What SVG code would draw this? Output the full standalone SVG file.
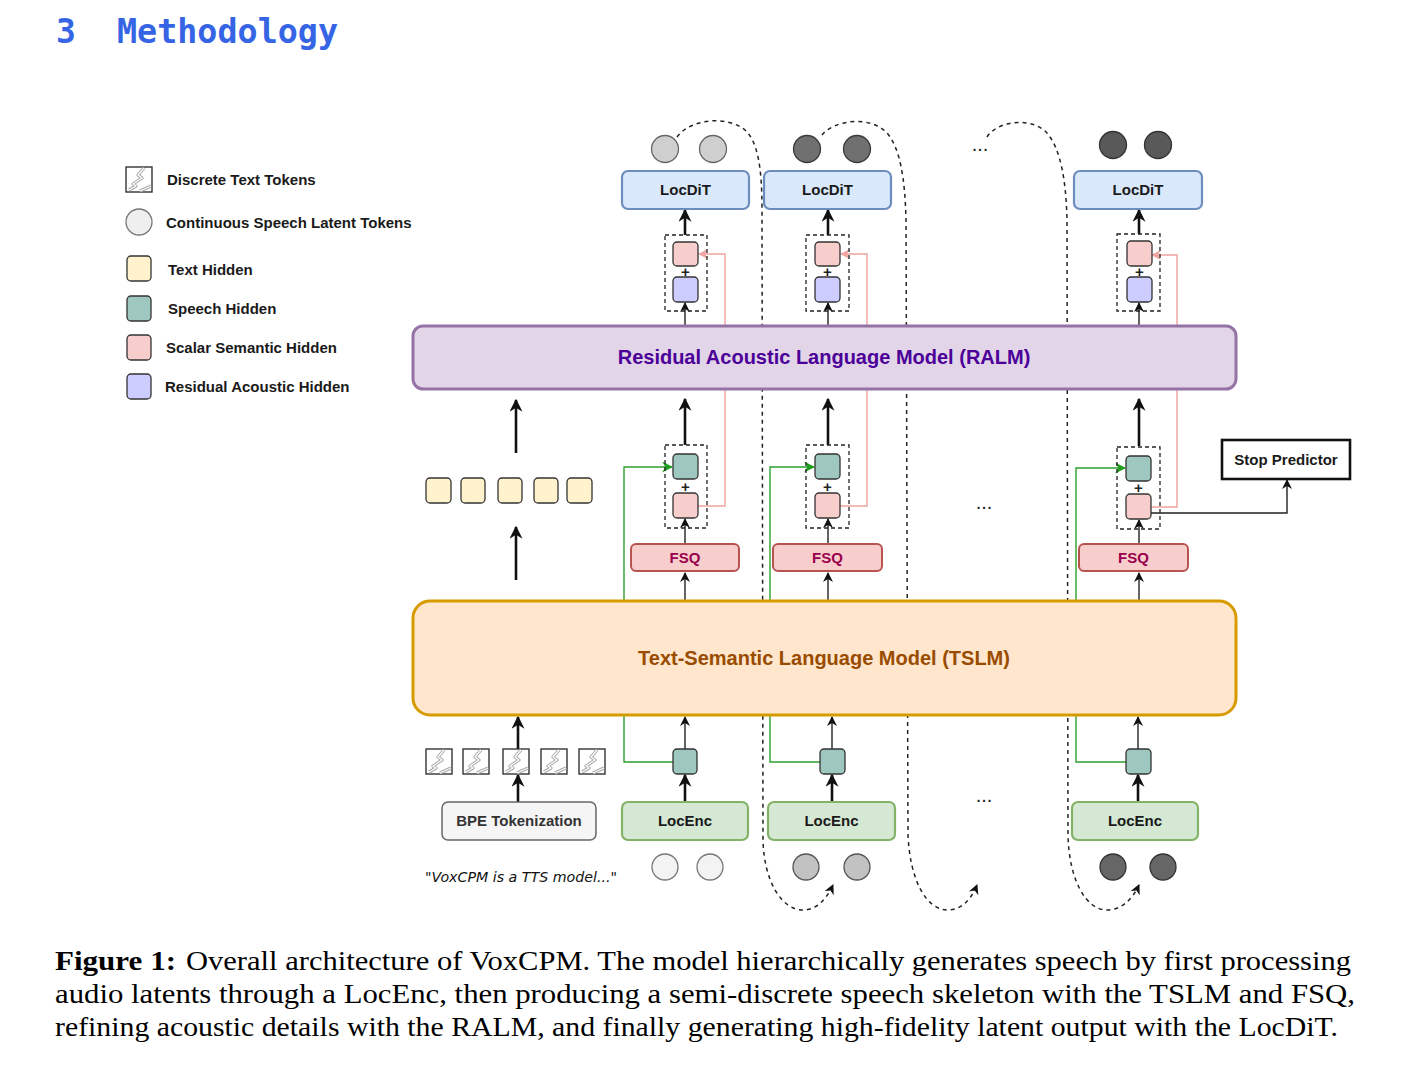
<svg xmlns="http://www.w3.org/2000/svg" xmlns:xlink="http://www.w3.org/1999/xlink" width="1409" height="1074" viewBox="0 0 1409 1074">
<style>
.t{font-family:"Liberation Sans",Arial,Helvetica,sans-serif;font-weight:bold;font-size:15px;fill:#1a1a1a}
.c{text-anchor:middle}
.sq{stroke:#333;stroke-width:1.3}
.th{fill:#fff2cc}
.sh{fill:#9ec7bf}
.ss{fill:#f8cecc}
.ra{fill:#ccccff}
.dbox{fill:none;stroke:#222;stroke-width:1.3;stroke-dasharray:4 3}
.thick{stroke:#111;stroke-width:2.6;fill:none}
.thin{stroke:#222;stroke-width:1.4;fill:none}
.green{stroke:#2ea02e;stroke-width:1.4;fill:none}
.pink{stroke:#f0a3a0;stroke-width:1.4;fill:none}
.curve{stroke:#222;stroke-width:1.5;fill:none;stroke-dasharray:4 4}
.locdit{fill:#dae8fc;stroke:#6c8ebf;stroke-width:2.2}
.locenc{fill:#d5e8d4;stroke:#82b366;stroke-width:2.2}
.fsq{fill:#f8cecc;stroke:#b85450;stroke-width:2}
.plus{font-family:"Liberation Sans",Arial,sans-serif;font-weight:bold;font-size:15px;fill:#222;text-anchor:middle}
.dots{font-family:"Liberation Sans",Arial,sans-serif;font-size:20px;fill:#222;text-anchor:middle}
.cap{font-family:"Liberation Serif","Times New Roman",serif;font-size:28px;fill:#000}
</style>
<defs>
<marker id="aK" markerUnits="userSpaceOnUse" markerWidth="13" markerHeight="13" viewBox="0 0 10 10" refX="9" refY="5" orient="auto"><path d="M0,0 L10,5 L0,10 L3,5 z" fill="#111"/></marker>
<marker id="aKs" markerUnits="userSpaceOnUse" markerWidth="10" markerHeight="10" viewBox="0 0 10 10" refX="9" refY="5" orient="auto"><path d="M0,0 L10,5 L0,10 L3,5 z" fill="#111"/></marker>
<marker id="aG" markerUnits="userSpaceOnUse" markerWidth="11" markerHeight="11" viewBox="0 0 10 10" refX="9" refY="5" orient="auto"><path d="M0,0 L10,5 L0,10 L3,5 z" fill="#1ea01e"/></marker>
<marker id="aP" markerUnits="userSpaceOnUse" markerWidth="10" markerHeight="10" viewBox="0 0 10 10" refX="9" refY="5" orient="auto"><path d="M0,0 L10,5 L0,10 L3,5 z" fill="#f0a3a0"/></marker>
<g id="tok">
<rect x="0" y="0" width="26" height="25" fill="#fff" stroke="#333" stroke-width="1.4"/>
<path d="M18,1 L12,8 L16,11 L7,17 L10,19 L3,23 M14,24 L25,19" fill="none" stroke="#a8a8a8" stroke-width="3.2" stroke-linejoin="round"/>
<path d="M18,1 L12,8 L16,11 L7,17 L10,19 L3,23 M14,24 L25,19" fill="none" stroke="#fff" stroke-width="1.2" stroke-linejoin="round"/>
</g>
</defs>
<rect width="1409" height="1074" fill="#fff"/>

<!-- Title -->
<text x="56" y="43" font-family="'DejaVu Sans Mono','Liberation Mono',monospace" font-weight="bold" font-size="33" fill="#3564e4">3</text>
<text x="117" y="43" font-family="'DejaVu Sans Mono','Liberation Mono',monospace" font-weight="bold" font-size="33" fill="#3564e4" textLength="221" lengthAdjust="spacingAndGlyphs">Methodology</text>

<!-- Legend -->
<g id="legend">
<use href="#tok" x="126" y="167"/>
<text class="t" x="167" y="185">Discrete Text Tokens</text>
<circle cx="139" cy="222" r="13" fill="#efefef" stroke="#777" stroke-width="1.3"/>
<text class="t" x="166" y="228">Continuous Speech Latent Tokens</text>
<rect class="sq th" x="127" y="256" width="24" height="25" rx="4"/>
<text class="t" x="168" y="275">Text Hidden</text>
<rect class="sq sh" x="127" y="296" width="24" height="25" rx="4"/>
<text class="t" x="168" y="314">Speech Hidden</text>
<rect class="sq ss" x="127" y="335" width="24" height="25" rx="4"/>
<text class="t" x="166" y="353">Scalar Semantic Hidden</text>
<rect class="sq ra" x="127" y="374" width="24" height="25" rx="4"/>
<text class="t" x="165" y="392">Residual Acoustic Hidden</text>
</g>

<!-- Connectors (under boxes) -->
<g id="connectors">
<path class="curve" d="M677,137 C690,119 727,115 745,130 C758,142 762,168 762,210 L763,840 C764,882 782,910 803,910 C816,910 826,900 833,885" marker-end="url(#aKs)"/>
<path class="curve" d="M822,135 C834,120 870,115 887,133 C900,148 905,178 906,220 L908,835 C910,880 926,910 948,910 C961,910 971,900 977,885" marker-end="url(#aKs)"/>
<path class="curve" d="M987,137 C997,121 1031,116 1047,133 C1060,148 1066,178 1067,220 L1068,835 C1069,880 1086,910 1107,910 C1121,910 1132,900 1139,885" marker-end="url(#aKs)"/>

<path class="green" d="M673,762 H624 V467 H672" marker-end="url(#aG)"/>
<path class="green" d="M820,762 H770 V467 H814" marker-end="url(#aG)"/>
<path class="green" d="M1126,762 H1076 V468 H1125" marker-end="url(#aG)"/>

<path class="pink" d="M698,506 H725 V254 H699" marker-end="url(#aP)"/>
<path class="pink" d="M840,506 H867 V254 H841" marker-end="url(#aP)"/>
<path class="pink" d="M1151,507 H1177 V255 H1152" marker-end="url(#aP)"/>

<path class="thin" d="M1151,513 H1287 V480" marker-end="url(#aKs)"/>

<path class="thick" d="M685,235 V210" marker-end="url(#aK)"/>
<path class="thin" d="M685,326 V303" marker-end="url(#aKs)"/>
<path class="thick" d="M685,445 V399" marker-end="url(#aK)"/>
<path class="thin" d="M685,544 V519" marker-end="url(#aKs)"/>
<path class="thin" d="M685,600 V573" marker-end="url(#aKs)"/>
<path class="thin" d="M685,749 V717" marker-end="url(#aKs)"/>
<path class="thick" d="M685,802 V775" marker-end="url(#aK)"/>

<path class="thick" d="M828,235 V210" marker-end="url(#aK)"/>
<path class="thin" d="M828,326 V303" marker-end="url(#aKs)"/>
<path class="thick" d="M828,445 V399" marker-end="url(#aK)"/>
<path class="thin" d="M828,544 V519" marker-end="url(#aKs)"/>
<path class="thin" d="M828,600 V573" marker-end="url(#aKs)"/>
<path class="thin" d="M832,749 V717" marker-end="url(#aKs)"/>
<path class="thick" d="M832,802 V775" marker-end="url(#aK)"/>

<path class="thick" d="M1139,234 V210" marker-end="url(#aK)"/>
<path class="thin" d="M1139,326 V303" marker-end="url(#aKs)"/>
<path class="thick" d="M1139,446 V399" marker-end="url(#aK)"/>
<path class="thin" d="M1139,544 V520" marker-end="url(#aKs)"/>
<path class="thin" d="M1139,600 V573" marker-end="url(#aKs)"/>
<path class="thin" d="M1138,749 V717" marker-end="url(#aKs)"/>
<path class="thick" d="M1138,802 V775" marker-end="url(#aK)"/>

<path class="thick" d="M516,453 V400" marker-end="url(#aK)"/>
<path class="thick" d="M516,580 V527" marker-end="url(#aK)"/>
<path class="thick" d="M518,749 V717" marker-end="url(#aK)"/>
<path class="thick" d="M518,802 V775" marker-end="url(#aK)"/>
</g>

<g id="ralm">
<rect x="413" y="326" width="823" height="63" rx="10" fill="#e1d5e7" stroke="#9673a6" stroke-width="3"/>
<text class="t c" x="824" y="364" style="font-size:20px;fill:#4c0099">Residual Acoustic Language Model (RALM)</text>
</g>
<g id="tslm">
<rect x="413" y="601" width="823" height="114" rx="17" fill="#ffe6cc" stroke="#d79b00" stroke-width="3"/>
<text class="t c" x="824" y="665" style="font-size:20px;fill:#994c00">Text-Semantic Language Model (TSLM)</text>
</g>

<g id="col1">
<circle cx="665" cy="149" r="13.5" fill="#cfcfcf" stroke="#666" stroke-width="1.3"/>
<circle cx="713" cy="149" r="13.5" fill="#cfcfcf" stroke="#666" stroke-width="1.3"/>
<rect class="locdit" x="622" y="171" width="127" height="38" rx="6"/>
<text class="t c" x="685.5" y="195">LocDiT</text>
<rect class="dbox" x="665" y="235" width="42" height="76"/>
<rect class="sq ss" x="673" y="242" width="25" height="24" rx="4"/>
<text class="plus" x="685.5" y="277">+</text>
<rect class="sq ra" x="673" y="277" width="25" height="25" rx="4"/>
<rect class="dbox" x="665" y="445" width="42" height="83"/>
<rect class="sq sh" x="673" y="454" width="25" height="25" rx="4"/>
<text class="plus" x="685.5" y="492">+</text>
<rect class="sq ss" x="673" y="493" width="25" height="25" rx="4"/>
<rect class="fsq" x="631" y="544" width="108" height="27" rx="5"/>
<text class="t c" x="685" y="563" style="fill:#99004d">FSQ</text>
<rect class="sq sh" x="673" y="749" width="24" height="25" rx="4"/>
<rect class="locenc" x="622" y="802" width="126" height="38" rx="6"/>
<text class="t c" x="685" y="826">LocEnc</text>
<circle cx="665" cy="867" r="13" fill="#f3f3f3" stroke="#777" stroke-width="1.3"/>
<circle cx="710" cy="867" r="13" fill="#f3f3f3" stroke="#777" stroke-width="1.3"/>
</g>

<g id="col2">
<circle cx="807" cy="149" r="13.5" fill="#707070" stroke="#3a3a3a" stroke-width="1.3"/>
<circle cx="857" cy="149" r="13.5" fill="#707070" stroke="#3a3a3a" stroke-width="1.3"/>
<rect class="locdit" x="764" y="171" width="127" height="38" rx="6"/>
<text class="t c" x="827.5" y="195">LocDiT</text>
<rect class="dbox" x="806" y="235" width="43" height="76"/>
<rect class="sq ss" x="815" y="242" width="25" height="24" rx="4"/>
<text class="plus" x="827.5" y="277">+</text>
<rect class="sq ra" x="815" y="277" width="25" height="25" rx="4"/>
<rect class="dbox" x="806" y="445" width="43" height="83"/>
<rect class="sq sh" x="815" y="454" width="25" height="25" rx="4"/>
<text class="plus" x="827.5" y="492">+</text>
<rect class="sq ss" x="815" y="493" width="25" height="25" rx="4"/>
<rect class="fsq" x="773" y="544" width="109" height="27" rx="5"/>
<text class="t c" x="827.5" y="563" style="fill:#99004d">FSQ</text>
<rect class="sq sh" x="820" y="749" width="25" height="25" rx="4"/>
<rect class="locenc" x="768" y="802" width="127" height="38" rx="6"/>
<text class="t c" x="831.5" y="826">LocEnc</text>
<circle cx="806" cy="867" r="13" fill="#c2c2c2" stroke="#555" stroke-width="1.3"/>
<circle cx="857" cy="867" r="13" fill="#c2c2c2" stroke="#555" stroke-width="1.3"/>
</g>

<g id="col3">
<text class="dots" x="980" y="151">...</text>
<text class="dots" x="984" y="509">...</text>
<text class="dots" x="984" y="802">...</text>
</g>

<g id="col4">
<circle cx="1113" cy="145" r="13.5" fill="#595959" stroke="#333" stroke-width="1.3"/>
<circle cx="1158" cy="145" r="13.5" fill="#595959" stroke="#333" stroke-width="1.3"/>
<rect class="locdit" x="1074" y="171" width="128" height="38" rx="6"/>
<text class="t c" x="1138" y="195">LocDiT</text>
<rect class="dbox" x="1117" y="234" width="43" height="77"/>
<rect class="sq ss" x="1127" y="241" width="25" height="25" rx="4"/>
<text class="plus" x="1139.5" y="277">+</text>
<rect class="sq ra" x="1127" y="277" width="25" height="25" rx="4"/>
<rect class="dbox" x="1117" y="447" width="43" height="82"/>
<rect class="sq sh" x="1126" y="456" width="25" height="25" rx="4"/>
<text class="plus" x="1138.5" y="493">+</text>
<rect class="sq ss" x="1126" y="494" width="25" height="25" rx="4"/>
<rect class="fsq" x="1079" y="544" width="109" height="27" rx="5"/>
<text class="t c" x="1133.5" y="563" style="fill:#99004d">FSQ</text>
<rect class="sq sh" x="1126" y="749" width="25" height="25" rx="4"/>
<rect class="locenc" x="1072" y="802" width="126" height="38" rx="6"/>
<text class="t c" x="1135" y="826">LocEnc</text>
<circle cx="1113" cy="867" r="13" fill="#666" stroke="#333" stroke-width="1.3"/>
<circle cx="1163" cy="867" r="13" fill="#666" stroke="#333" stroke-width="1.3"/>
</g>

<g id="stop">
<rect x="1222" y="440" width="128" height="39" fill="#fff" stroke="#111" stroke-width="2.6"/>
<text class="t c" x="1286" y="465">Stop Predictor</text>
</g>

<g id="texthidden">
<rect class="sq th" x="426" y="478" width="25" height="25" rx="4"/>
<rect class="sq th" x="461" y="478" width="24" height="25" rx="4"/>
<rect class="sq th" x="498" y="478" width="24" height="25" rx="4"/>
<rect class="sq th" x="534" y="478" width="24" height="25" rx="4"/>
<rect class="sq th" x="567" y="478" width="25" height="25" rx="4"/>
</g>
<g id="tokens">
<use href="#tok" x="426" y="749"/>
<use href="#tok" x="463" y="749"/>
<use href="#tok" x="503" y="749"/>
<use href="#tok" x="541" y="749"/>
<use href="#tok" x="579" y="749"/>
</g>
<g id="bpe">
<rect x="442" y="802" width="154" height="38" rx="6" fill="#f5f5f5" stroke="#666" stroke-width="1.5"/>
<text class="t c" x="519" y="826" style="fill:#333">BPE Tokenization</text>
</g>
<text id="quote" x="425" y="882" font-family="'DejaVu Sans','Liberation Sans',sans-serif" font-style="italic" font-size="14" fill="#111" textLength="192" lengthAdjust="spacingAndGlyphs">"VoxCPM is a TTS model..."</text>

<g id="caption">
<text class="cap" x="55" y="970" font-weight="bold" textLength="121" lengthAdjust="spacingAndGlyphs">Figure 1:</text>
<text class="cap" x="186" y="970" textLength="1165" lengthAdjust="spacingAndGlyphs">Overall architecture of VoxCPM. The model hierarchically generates speech by first processing</text>
<text class="cap" x="55" y="1003" textLength="1300" lengthAdjust="spacingAndGlyphs">audio latents through a LocEnc, then producing a semi-discrete speech skeleton with the TSLM and FSQ,</text>
<text class="cap" x="55" y="1036" textLength="1283" lengthAdjust="spacingAndGlyphs">refining acoustic details with the RALM, and finally generating high-fidelity latent output with the LocDiT.</text>
</g>
</svg>
